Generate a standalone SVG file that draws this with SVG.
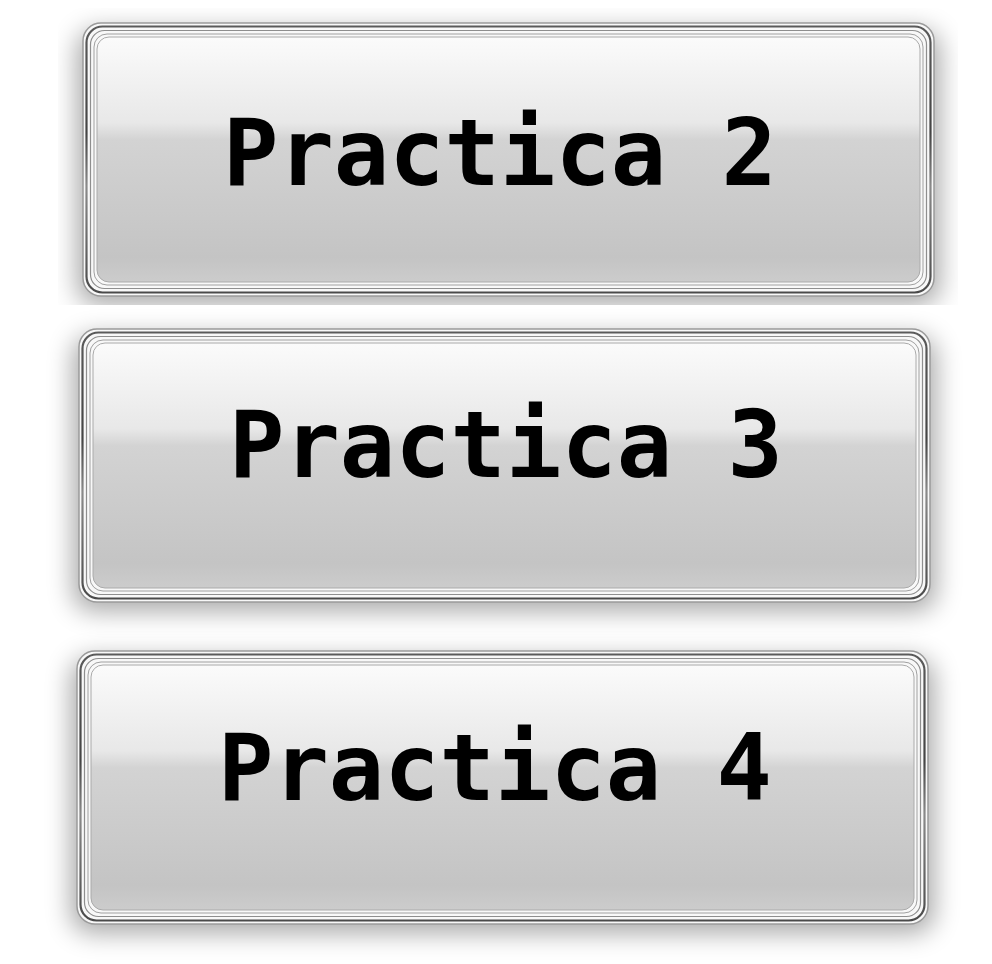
<svg xmlns="http://www.w3.org/2000/svg" xmlns:xlink="http://www.w3.org/1999/xlink" width="992" height="964" viewBox="0 0 992 964">
  <defs>
    <linearGradient id="face" x1="0" y1="0" x2="0" y2="1">
      <stop offset="0" stop-color="#fbfbfb"/>
      <stop offset="0.35" stop-color="#e8e8e8"/>
      <stop offset="0.42" stop-color="#d3d3d3"/>
      <stop offset="0.9" stop-color="#c4c4c4"/>
      <stop offset="1" stop-color="#cccccc"/>
    </linearGradient>
    <linearGradient id="ring" x1="0" y1="0" x2="0" y2="1">
      <stop offset="0" stop-color="#5a5a5a"/>
      <stop offset="0.4" stop-color="#444"/>
      <stop offset="0.6" stop-color="#8a8a8a"/>
      <stop offset="1" stop-color="#4a4a4a"/>
    </linearGradient>
    <filter id="blur" x="-20%" y="-30%" width="140%" height="160%">
      <feGaussianBlur stdDeviation="13"/>
    </filter>
    <clipPath id="clip1">
      <rect x="-25" y="-15" width="900" height="297"/>
    </clipPath>
    <g id="shadow">
      <rect x="-6" y="7" width="863" height="275" rx="20" fill="#000" opacity="0.34" filter="url(#blur)"/>
    </g>
    <g id="frame">
      <rect x="0" y="0" width="851" height="273" rx="18" fill="#f8f8f8" stroke="#9a9a9a" stroke-width="1.5"/>
      <rect x="3.5" y="3.5" width="844" height="266" rx="16" fill="none" stroke="url(#ring)" stroke-width="2.2"/>
      <rect x="7.5" y="7.5" width="836" height="258" rx="14" fill="none" stroke="#8e8e8e" stroke-width="1.2"/>
      <rect x="11" y="11" width="829" height="251" rx="13" fill="none" stroke="#a0a0a0" stroke-width="1"/>
      <rect x="14" y="14" width="823" height="245" rx="12" fill="url(#face)" stroke="#aaaaaa" stroke-width="1"/>
    </g>
    <style>
      .label { font-family: "DejaVu Sans Mono", "Liberation Mono", monospace; font-weight: bold; font-size: 92px; fill: #000; text-anchor: middle; }
    </style>
  </defs>
  <rect width="992" height="964" fill="#fff"/>
  <g id="connectors"/>
  <g id="practica2" transform="translate(83,23)">
    <g clip-path="url(#clip1)">
      <use xlink:href="#shadow"/>
    </g>
    <use xlink:href="#frame"/>
    <text class="label" x="417" y="162">Practica 2</text>
  </g>
  <g id="practica3" transform="translate(79,329)">
    <use xlink:href="#shadow"/>
    <use xlink:href="#frame"/>
    <text class="label" x="427" y="148">Practica 3</text>
  </g>
  <g id="practica4" transform="translate(77,651)">
    <use xlink:href="#shadow"/>
    <use xlink:href="#frame"/>
    <text class="label" x="418" y="149">Practica 4</text>
  </g>
</svg>
